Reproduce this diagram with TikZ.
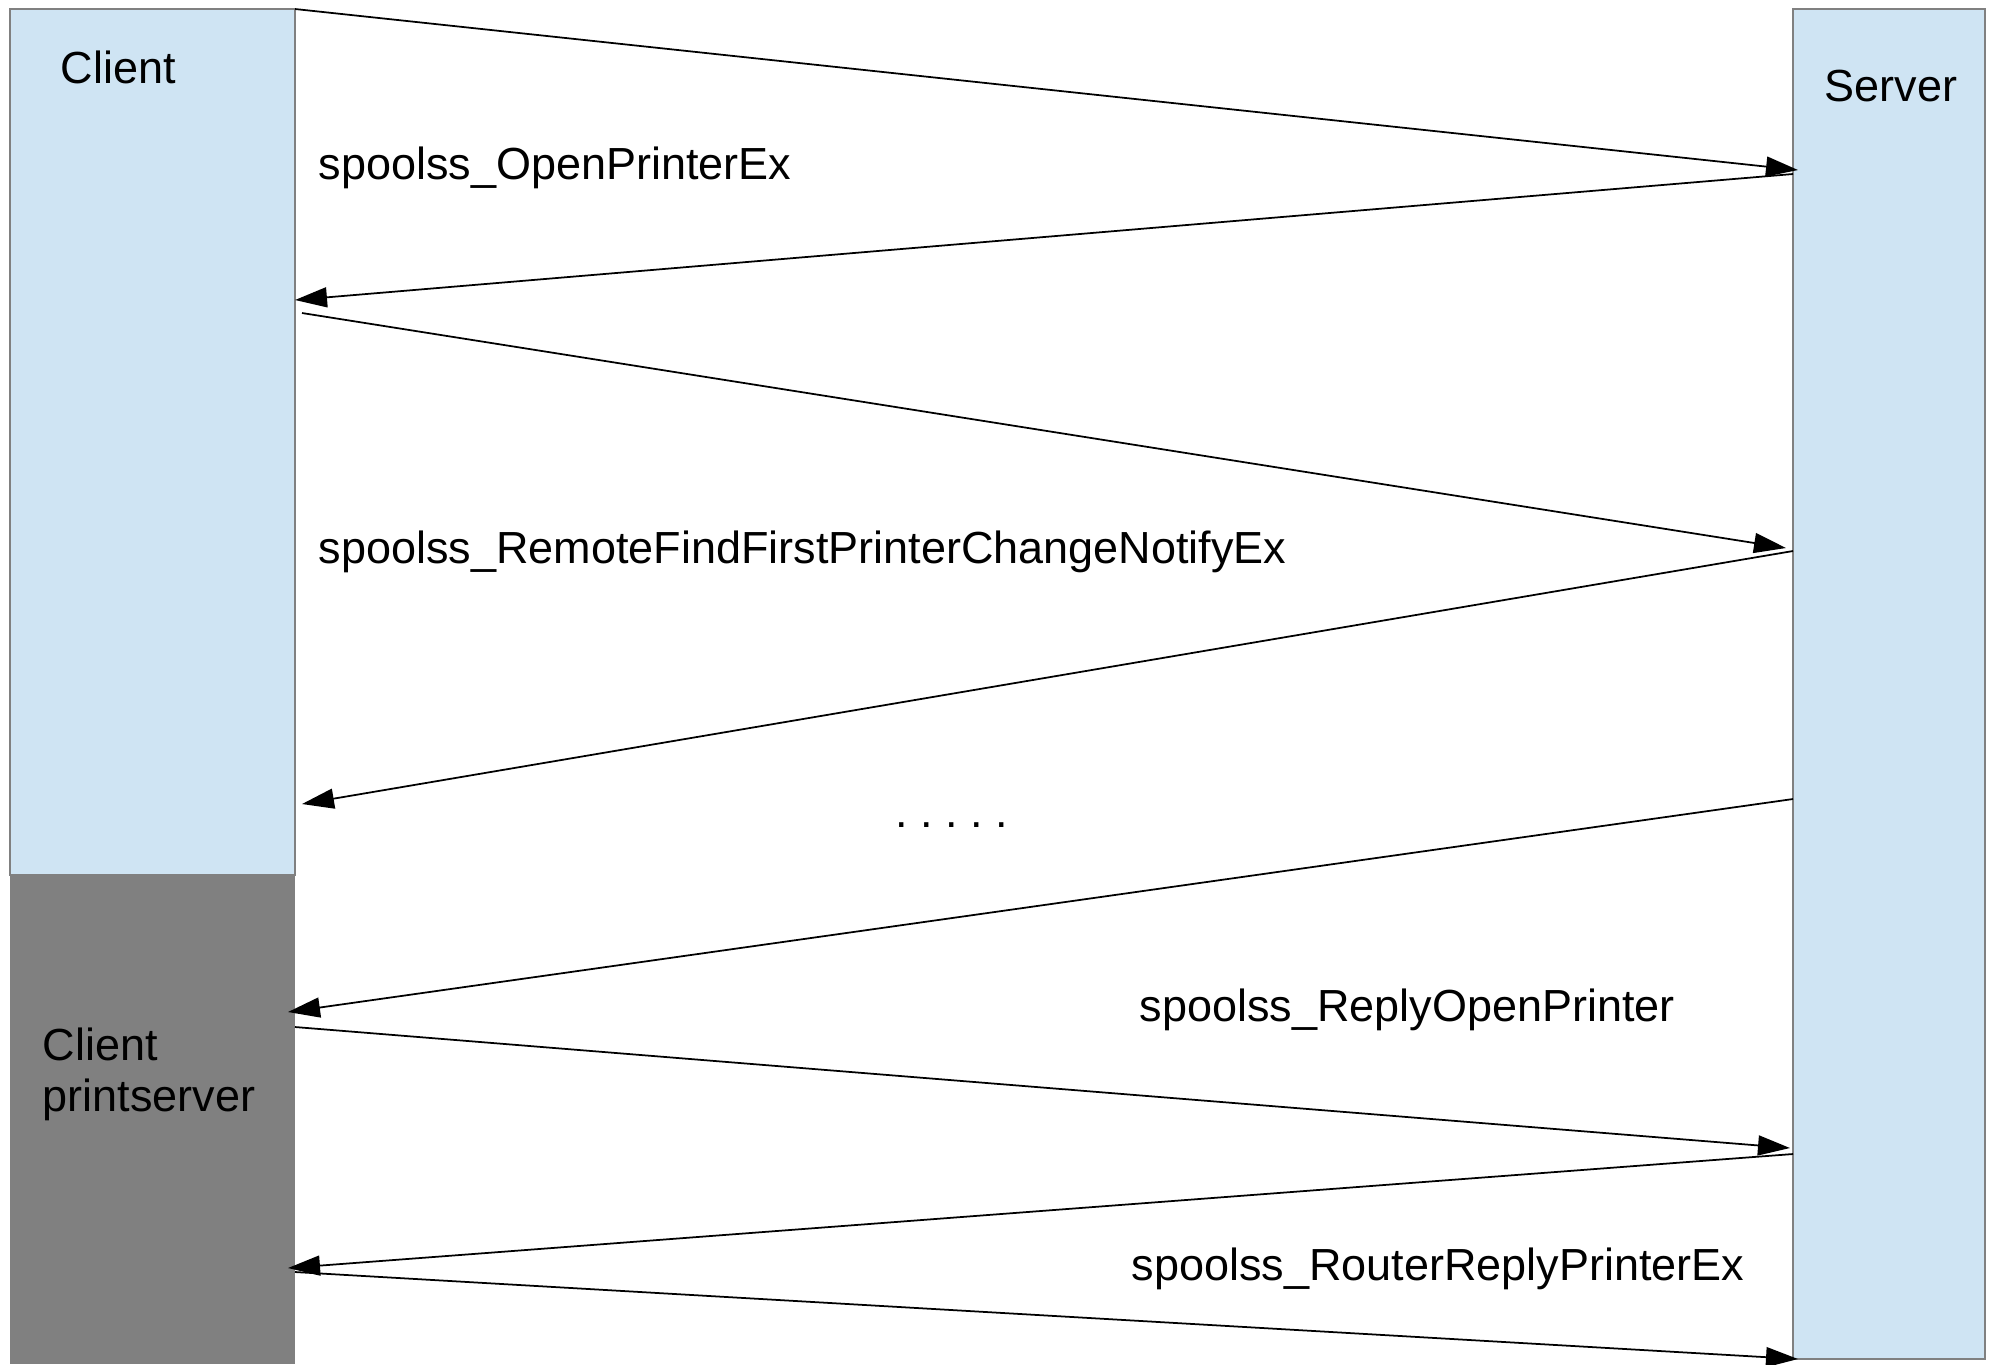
\documentclass[tikz,border=0pt]{standalone}
\usepackage{fontspec}
\setmainfont{Liberation Sans}
\usetikzlibrary{arrows.meta}
\definecolor{lanefill}{RGB}{207,228,243}
\definecolor{lanedark}{RGB}{128,128,128}
\frenchspacing
\begin{document}
\begin{tikzpicture}
		\def \xc {2.95}
		\def \xs {17.93}
		\tikzset{msg/.style={line width=0.5pt,-{Triangle[length=0.32cm,width=0.2cm]}},
			txt/.style={anchor=west,inner sep=0pt,font=\fontsize{12.8}{14.6}\selectfont}}
		\useasboundingbox (0,0) rectangle (19.95,-13.64);
		\draw[fill=lanefill,draw=gray] (0.10,-0.09) rectangle (\xc,-8.75);
		\fill[lanedark] (0.10,-8.75) rectangle (\xc,-13.64);
		\draw[fill=lanefill,draw=gray] (\xs,-0.09) rectangle (19.85,-13.59);
		\node[txt] (client) at (0.60,-0.67) {Client};
		\node[txt,anchor=center] (server) at (18.91,-0.86) {Server};
		\node[txt,align=left] (printsrv) at (0.42,-10.74) {Client\\printserver};
		\coordinate (c1) at (\xc,-0.09);
		\coordinate (s1) at (17.98,-1.70);
		\coordinate (s2) at (\xs,-1.74);
		\coordinate (c2) at (\xc,-3.00);
		\coordinate (c3) at (3.02,-3.13);
		\coordinate (s3) at (17.86,-5.48);
		\coordinate (s4) at (\xs,-5.51);
		\coordinate (c4) at (3.02,-8.04);
		\coordinate (s5) at (\xs,-7.99);
		\coordinate (c5) at (2.88,-10.12);
		\coordinate (c6) at (\xc,-10.27);
		\coordinate (s6) at (17.90,-11.48);
		\coordinate (s7) at (\xs,-11.54);
		\coordinate (c7) at (2.88,-12.68);
		\coordinate (c8) at (\xc,-12.72);
		\coordinate (s8) at (17.98,-13.59);
		\draw[msg] (c1) -- (s1);
		\draw[msg] (s2) -- (c2);
		\draw[msg] (c3) -- (s3);
		\draw[msg] (s4) -- (c4);
		\draw[msg] (s5) -- (c5);
		\draw[msg] (c6) -- (s6);
		\draw[msg] (s7) -- (c7);
		\draw[msg] (c8) -- (s8);
		\node[txt] (open) at (3.18,-1.68) {spoolss\_OpenPrinterEx};
		\node[txt] (notify) at (3.18,-5.52) {spoolss\_RemoteFindFirstPrinterChangeNotifyEx};
		\node[txt,anchor=center] (dots) at (9.52,-8.25) {. . . . .};
		\node[txt] (reply) at (11.39,-10.10) {spoolss\_ReplyOpenPrinter};
		\node[txt] (router) at (11.31,-12.69) {spoolss\_RouterReplyPrinterEx};
	\end{tikzpicture}
\end{document}
